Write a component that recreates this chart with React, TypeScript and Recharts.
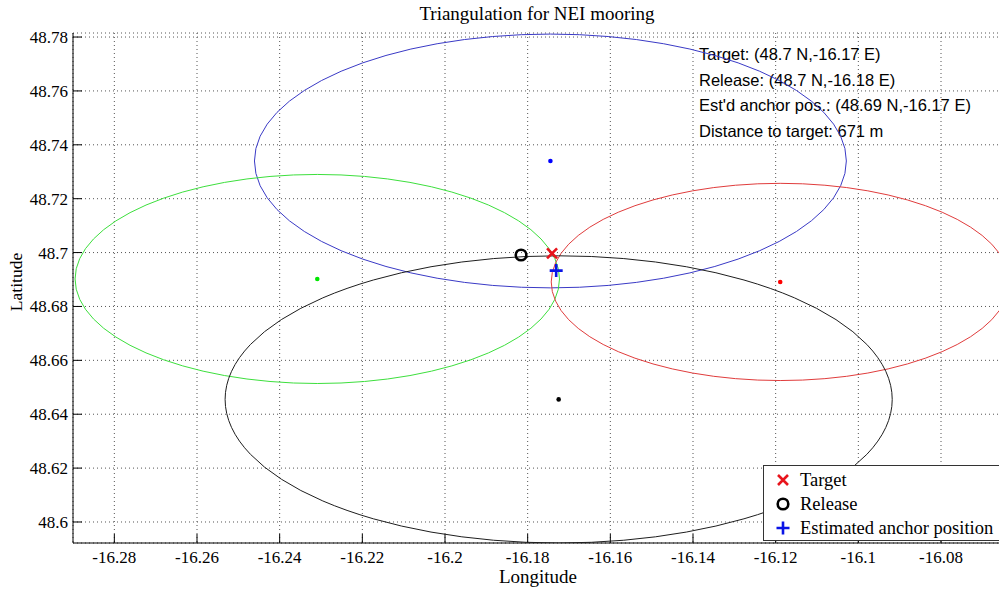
import { CartesianGrid, Legend, Scatter, ScatterChart, XAxis, YAxis } from "recharts";

const xTicks = [-16.28, -16.26, -16.24, -16.22, -16.2, -16.18, -16.16, -16.14, -16.12, -16.1, -16.08];
const yTicks = [48.6, 48.62, 48.64, 48.66, 48.68, 48.7, 48.72, 48.74, 48.76, 48.78];

// transponders: position + slant-range circle (radius in deg lon / deg lat)
const beaconLon = [-16.1745, -16.2309, -16.1189, -16.1725];
const beaconLat = [48.734, 48.6902, 48.6891, 48.6455];
const rangeLon = [0.0716, 0.0586, 0.0554, 0.0807];
const rangeLat = [0.0471, 0.0388, 0.0366, 0.0533];
const ringColors = ["#3a3ac6", "#3ddf3d", "#e03c3c", "#1e1e1e"];
const dotColors = ["#0000ff", "#00e600", "#ff0000", "#000000"];

const target = [{ lon: -16.1741, lat: 48.6997 }];
const release = [{ lon: -16.1816, lat: 48.6991 }];
const anchor = [{ lon: -16.1731, lat: 48.6933 }];

const infoLines = [
  "Target: (48.7 N,-16.17 E)",
  "Release: (48.7 N,-16.18 E)",
  "Est'd anchor pos.: (48.69 N,-16.17 E)",
  "Distance to target: 671 m",
];
const legendNames = ["Target", "Release", "Estimated anchor position"];

const SERIF = "'Liberation Serif', 'DejaVu Serif', serif";
const SANS = "'Liberation Sans', Arial, sans-serif";

const rings = beaconLon.map((lon, i) => [
  { lon, lat: beaconLat[i], kind: "c" },
  { lon: lon + rangeLon[i], lat: beaconLat[i], kind: "e" },
  { lon, lat: beaconLat[i] + rangeLat[i], kind: "n" },
]);

const fmt = (v: number) => String(Number(v.toFixed(2)));

const XTick = (p: any) => (
  <text x={p.x} y={p.y} textAnchor="middle" fontFamily={SERIF} fontSize={17} fill="#000">
    {fmt(p.payload.value)}
  </text>
);
const YTick = (p: any) => (
  <text x={p.x} y={p.y + 6} textAnchor="end" fontFamily={SERIF} fontSize={17} fill="#000">
    {fmt(p.payload.value)}
  </text>
);

const ringLine = (color: string) => (p: any) => {
  const [c, e, n] = p.points;
  return (
    <ellipse
      cx={c.x}
      cy={c.y}
      rx={Math.abs(e.x - c.x)}
      ry={Math.abs(c.y - n.y)}
      fill="none"
      stroke={color}
      strokeWidth={1}
    />
  );
};

const ringDot = (color: string) => (p: any) =>
  p.payload.kind === "c" ? <circle cx={p.cx} cy={p.cy} r={2.3} fill={color} /> : <g />;

const XMark = (p: any) => (
  <path
    d={`M${p.cx - 5},${p.cy - 5}L${p.cx + 5},${p.cy + 5}M${p.cx - 5},${p.cy + 5}L${p.cx + 5},${p.cy - 5}`}
    stroke="#e8141c"
    strokeWidth={2.6}
    fill="none"
  />
);
const OMark = (p: any) => (
  <circle cx={p.cx} cy={p.cy} r={5.3} stroke="#000" strokeWidth={2.6} fill="none" />
);
const PlusMark = (p: any) => (
  <path
    d={`M${p.cx - 6.5},${p.cy}L${p.cx + 6.5},${p.cy}M${p.cx},${p.cy - 6.5}L${p.cx},${p.cy + 6.5}`}
    stroke="#0a14e6"
    strokeWidth={2.6}
    fill="none"
  />
);

const legendIcons = [
  <path d="M2,2L12,12M2,12L12,2" stroke="#e8141c" strokeWidth={2.6} fill="none" />,
  <circle cx={7} cy={7} r={5.3} stroke="#000" strokeWidth={2.6} fill="none" />,
  <path d="M0.5,7L13.5,7M7,0.5L7,13.5" stroke="#0a14e6" strokeWidth={2.6} fill="none" />,
];

const LegendBox = () => (
  <div
    style={{
      border: "1px solid #333",
      background: "#fff",
      height: 72,
      paddingTop: 2,
      boxSizing: "content-box",
      fontFamily: SERIF,
      fontSize: 18.5,
      color: "#000",
    }}
  >
    {legendNames.map((name, i) => (
      <div key={name} style={{ height: 24, display: "flex", alignItems: "center", whiteSpace: "nowrap" }}>
        <svg width={14} height={14} style={{ marginLeft: 12, marginRight: 10 }}>
          {legendIcons[i]}
        </svg>
        <span>{name}</span>
      </div>
    ))}
  </div>
);

export default function App() {
  return (
    <div
      style={{
        position: "absolute",
        left: 0,
        top: 0,
        width: 999,
        height: 592,
        overflow: "hidden",
        background: "#fff",
      }}
    >
      <ScatterChart width={1013} height={592} margin={{ top: 33, right: 10, bottom: 0, left: 0 }}>
        <CartesianGrid stroke="#555" strokeDasharray="1 3" />
        <XAxis
          type="number"
          dataKey="lon"
          domain={[-16.29, -16.065]}
          allowDataOverflow
          ticks={xTicks}
          height={49}
          stroke="#000"
          tickSize={-9}
          tickMargin={29}
          tick={XTick}
        />
        <XAxis
          xAxisId="top"
          orientation="top"
          type="number"
          dataKey="lon"
          domain={[-16.29, -16.065]}
          allowDataOverflow
          ticks={xTicks}
          height={0}
          stroke="#000"
          tickSize={-9}
          tick={false}
        />
        <YAxis
          type="number"
          dataKey="lat"
          domain={[48.5922, 48.7815]}
          allowDataOverflow
          ticks={yTicks}
          width={73}
          stroke="#000"
          tickSize={-9}
          tickMargin={14}
          tick={YTick}
        />
        {rings.map((data, i) => (
          <Scatter
            key={i}
            data={data}
            line={ringLine(ringColors[i])}
            shape={ringDot(dotColors[i])}
            isAnimationActive={false}
            legendType="none"
          />
        ))}
        <Scatter name="Release" data={release} shape={OMark} isAnimationActive={false} />
        <Scatter name="Target" data={target} shape={XMark} isAnimationActive={false} />
        <Scatter name="Estimated anchor position" data={anchor} shape={PlusMark} isAnimationActive={false} />
        <Legend
          layout="vertical"
          align="center"
          verticalAlign="middle"
          content={<LegendBox />}
          wrapperStyle={{ left: 763, top: 465, width: 260, height: 76 }}
        />
        <text x={537} y={20} textAnchor="middle" fontFamily={SERIF} fontSize={19} fill="#000">
          Triangulation for NEI mooring
        </text>
        <text x={538} y={583} textAnchor="middle" fontFamily={SERIF} fontSize={19} fill="#000">
          Longitude
        </text>
        <text
          x={0}
          y={0}
          transform="translate(22,282) rotate(-90)"
          textAnchor="middle"
          fontFamily={SERIF}
          fontSize={17.5}
          fill="#000"
        >
          Latitude
        </text>
        {infoLines.map((line, i) => (
          <text key={line} x={699} y={60 + i * 25.5} fontFamily={SANS} fontSize={16.5} fill="#000">
            {line}
          </text>
        ))}
      </ScatterChart>
    </div>
  );
}
